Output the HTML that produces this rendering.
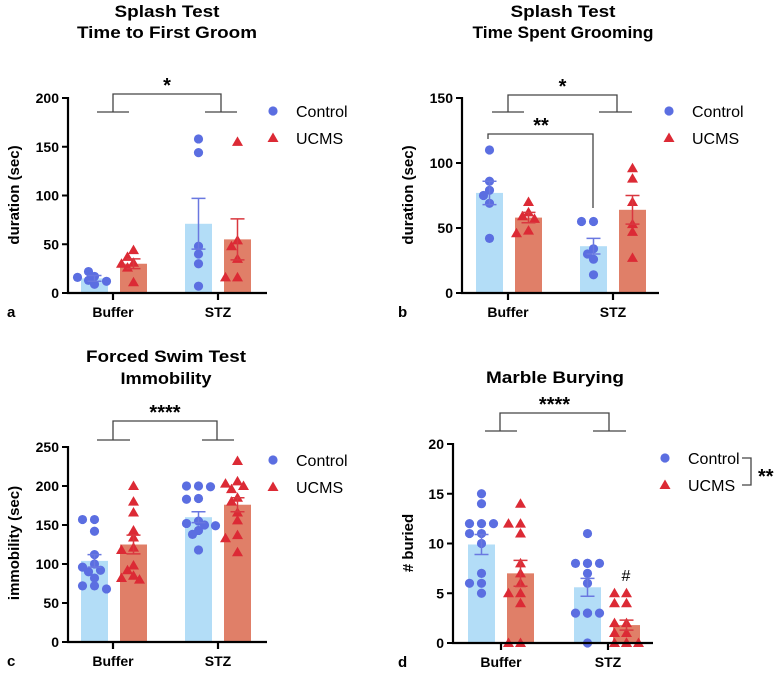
<!DOCTYPE html>
<html><head><meta charset="utf-8">
<style>
html,body{margin:0;padding:0;background:#fff;}
svg{display:block;font-family:"Liberation Sans",Arial,sans-serif;}
</style></head>
<body>
<svg id="chart" width="781" height="674" viewBox="0 0 781 674">
  <g font-weight="bold" font-size="17" fill="#000" text-anchor="middle">
    <text x="167" y="17" textLength="105" lengthAdjust="spacingAndGlyphs">Splash Test</text>
    <text x="167" y="38" textLength="180" lengthAdjust="spacingAndGlyphs">Time to First Groom</text>
    <text x="563" y="17" textLength="105" lengthAdjust="spacingAndGlyphs">Splash Test</text>
    <text x="563" y="38" textLength="181" lengthAdjust="spacingAndGlyphs">Time Spent Grooming</text>
    <text x="166" y="362" textLength="160" lengthAdjust="spacingAndGlyphs">Forced Swim Test</text>
    <text x="166" y="384" textLength="91" lengthAdjust="spacingAndGlyphs">Immobility</text>
    <text x="555" y="383" textLength="138" lengthAdjust="spacingAndGlyphs">Marble Burying</text>
  </g>
</svg>
<script>
// ---- data ----
const categories = ["Buffer", "STZ"];
const groups = ["Control", "UCMS"];
// Panel a: time to first groom
const aMeans = [[15, 30], [71, 55]];
const aSem = [[3, 5], [26, 21]];
const aBufCtrl = [9, 13, 17, 12, 22, 16];
const aBufUcms = [44, 37, 31, 30, 26, 11];
const aStzCtrl = [158, 144, 48, 40, 30, 7];
const aStzUcms = [155, 54, 48, 35, 16, 16];
const aTicks = [0, 50, 100, 150, 200];
// Panel b: time spent grooming
const bMeans = [[77, 58], [36, 64]];
const bSem = [[9, 4], [6, 11]];
const bBufCtrl = [110, 86, 79, 75, 69, 42];
const bBufUcms = [70, 62, 59, 57, 48, 46];
const bStzCtrl = [55, 55, 34, 30, 26, 14];
const bStzUcms = [96, 88, 70, 53, 47, 27];
const bTicks = [0, 50, 100, 150];
// Panel c: immobility
const cMeans = [[104, 125], [160, 176]];
const cSem = [[8, 12], [7, 9]];
const cBufCtrl = [157, 157, 142, 112, 100, 96, 92, 90, 82, 72, 72, 68];
const cBufUcms = [200, 180, 166, 143, 134, 121, 118, 98, 92, 85, 82, 80];
const cStzCtrl = [200, 200, 199, 184, 183, 155, 152, 150, 149, 143, 138, 118];
const cStzUcms = [232, 206, 203, 200, 196, 185, 180, 166, 156, 137, 133, 115];
const cTicks = [0, 50, 100, 150, 200, 250];
// Panel d: marble burying
const dMeans = [[9.9, 7], [5.6, 1.8]];
const dSem = [[1, 1.3], [0.9, 0.5]];
const dBufCtrl = [15, 14, 12, 12, 12, 11, 11, 10, 7, 6, 6, 5];
const dBufUcms = [14, 12, 12, 11, 8, 7, 6, 5, 5, 4, 0, 0];
const dStzCtrl = [11, 8, 8, 8, 8, 7, 6, 3, 3, 3, 3, 0];
const dStzUcms = [5, 5, 4, 4, 2, 2, 1, 1, 0, 0, 0, 0, 0];
const dTicks = [0, 5, 10, 15, 20];

const NS = "http://www.w3.org/2000/svg";
const svg = document.getElementById("chart");
function mk(tag, attrs, parent) {
  const e = document.createElementNS(NS, tag);
  for (const k in attrs) e.setAttribute(k, attrs[k]);
  (parent || svg).appendChild(e);
  return e;
}
const BLUE = "#5b6ee1", RED = "#dc2a35", BARB = "#b3ddf7", BARR = "#e07f68";

function panel(p) {
  const g = mk("g", {});
  
  
  const y = v => p.y0 - (v / p.ymax) * (p.y0 - p.ytop);
  const barX = [p.bars[0], p.bars[1], p.bars[2], p.bars[3]];
  const bw = 27;
  const series = [[p.pts[0], p.pts[1]], [p.pts[2], p.pts[3]]];
  for (let c = 0; c < 2; c++) {
    for (let s = 0; s < 2; s++) {
      const x0 = barX[c * 2 + s], cx = x0 + bw / 2;
      const bar = mk("rect", {x: x0, y: y(p.means[c][s]), width: bw, height: p.y0 - y(p.means[c][s]), fill: s ? BARR : BARB}, g);
      
      
      const vals = series[c][s];
      const placed = [];
      vals.forEach(v => {
        const py = y(v);
        const offs = [0, -6, 6, -12, 12, -17, 17];
        let px = cx;
        for (const o of offs) {
          if (!placed.some(q => Math.hypot(q[0] - (cx + o), q[1] - py) < 7)) { px = cx + o; break; }
        }
        placed.push([px, py]);
        let m;
        if (s === 0) m = mk("circle", {cx: px, cy: py, r: 4.6, fill: BLUE}, g);
        else m = mk("polygon", {points: `${px},${py - 5.5} ${px + 5.5},${py + 4} ${px - 5.5},${py + 4}`, fill: RED}, g);
        
        
      });
      const col = s ? "#d9373f" : "#6a78e0";
      const eb = mk("path", {d: `M${cx},${y(p.means[c][s] - p.sem[c][s])}V${y(p.means[c][s] + p.sem[c][s])}M${cx - 7},${y(p.means[c][s] + p.sem[c][s])}h14M${cx - 7},${y(p.means[c][s] - p.sem[c][s])}h14`, stroke: col, "stroke-width": 1.5, fill: "none"}, g);
      
      
    }
  }
  const ax = mk("path", {d: `M${p.ax},${p.ytop - 1}V${p.y0}H${p.axEnd}M${p.ticks2[0]},${p.y0}v7M${p.ticks2[1]},${p.y0}v7`, stroke: "#000", "stroke-width": 2.2, fill: "none"}, g);
  
  
  p.ticks.forEach(t => {
    const tk = mk("line", {x1: p.ax - 6, x2: p.ax, y1: y(t), y2: y(t), stroke: "#000", "stroke-width": 2}, g);
    
    
    const tl = mk("text", {x: p.ax - 9, y: y(t) + 5, "text-anchor": "end", "font-size": 14, "font-weight": "bold"}, g);
    tl.textContent = t;
    
    
  });
  categories.forEach((cname, i) => {
    const t = mk("text", {x: p.ticks2[i], y: p.y0 + 24, "text-anchor": "middle", "font-size": 14, "font-weight": "bold"}, g);
    t.textContent = cname;
    
    
  });
  const yt = mk("text", {x: 0, y: 0, transform: `translate(${p.ytx},${p.ytc}) rotate(-90)`, "text-anchor": "middle", "font-size": 15, "font-weight": "bold"}, g);
  yt.textContent = p.ylabel;
  
  
  const lt = mk("text", {x: p.letterX, y: p.y0 + 24, "font-size": 15, "font-weight": "bold"}, g);
  lt.textContent = p.id;
  
  
  const b = p.br;
  const br = mk("path", {d: `M${b.l1},${b.arm}H${b.l2}M${b.lv},${b.arm}V${b.top}H${b.rv}V${b.arm}M${b.r1},${b.arm}H${b.r2}`, stroke: "#444", "stroke-width": 1.3, fill: "none"}, g);
  
  
  const st = mk("text", {x: (b.lv + b.rv) / 2, y: b.top - 2, "text-anchor": "middle", "font-size": 20, "font-weight": "bold"}, g);
  st.textContent = b.stars;
  
  
  const lc = mk("circle", {cx: p.lx, cy: p.ly1, r: 4.6, fill: BLUE}, g);
  
  
  const lx2 = p.lx, ly2 = p.ly2;
  const lr = mk("polygon", {points: `${lx2},${ly2 - 5.5} ${lx2 + 5.5},${ly2 + 4} ${lx2 - 5.5},${ly2 + 4}`, fill: RED}, g);
  
  
  const t1 = mk("text", {x: p.lx + 23, y: p.ly1 + 6, "font-size": 16}, g);
  t1.textContent = "Control";
  
  
  const t2 = mk("text", {x: p.lx + 23, y: p.ly2 + 6, "font-size": 16}, g);
  t2.textContent = "UCMS";
  
  
  return {g, y};
}

panel({id: 'a', means: aMeans, sem: aSem, pts: [aBufCtrl, aBufUcms, aStzCtrl, aStzUcms], ticks: aTicks, ymax: 200,
  ax: 68, y0: 293, ytop: 98, axEnd: 267, bars: [81, 120, 185, 224], ticks2: [113, 218], ylabel: "duration (sec)",
  ytx: 19, ytc: 195, letterX: 7, lx: 273, ly1: 111, ly2: 138,
  br: {l1: 97, l2: 129, lv: 113, top: 94, rv: 221, r1: 205, r2: 237, arm: 112, stars: "*"}});
const pb = panel({id: 'b', means: bMeans, sem: bSem, pts: [bBufCtrl, bBufUcms, bStzCtrl, bStzUcms], ticks: bTicks, ymax: 150,
  ax: 462, y0: 293, ytop: 98, axEnd: 659, bars: [476, 515, 580, 619], ticks2: [508, 613], ylabel: "duration (sec)",
  ytx: 413, ytc: 195, letterX: 398, lx: 669, ly1: 111, ly2: 138,
  br: {l1: 492, l2: 524, lv: 508, top: 95, rv: 617, r1: 599, r2: 632, arm: 112, stars: "*"}});
const b2 = mk("path", {d: "M488,139V134H593V208", stroke: "#444", "stroke-width": 1.3, fill: "none"}, pb.g);


const b2t = mk("text", {x: 541, y: 132, "text-anchor": "middle", "font-size": 20, "font-weight": "bold"}, pb.g);
b2t.textContent = "**";



panel({id: 'c', means: cMeans, sem: cSem, pts: [cBufCtrl, cBufUcms, cStzCtrl, cStzUcms], ticks: cTicks, ymax: 250,
  ax: 68, y0: 642, ytop: 447, axEnd: 267, bars: [81, 120, 185, 224], ticks2: [113, 218], ylabel: "immobility (sec)",
  ytx: 19, ytc: 543, letterX: 7, lx: 273, ly1: 460, ly2: 487,
  br: {l1: 97, l2: 130, lv: 113, top: 421, rv: 217, r1: 202, r2: 234, arm: 440, stars: "****"}});
const pd = panel({id: 'd', means: dMeans, sem: dSem, pts: [dBufCtrl, dBufUcms, dStzCtrl, dStzUcms], ticks: dTicks, ymax: 20,
  ax: 453, y0: 643, ytop: 444, axEnd: 653, bars: [468, 507, 574, 613], ticks2: [501, 608], ylabel: "# buried",
  ytx: 413, ytc: 543, letterX: 398, lx: 665, ly1: 458, ly2: 485,
  br: {l1: 485, l2: 517, lv: 500, top: 413, rv: 609, r1: 593, r2: 626, arm: 431, stars: "****"}});
const lb = mk("path", {d: "M742,458H751V485H742", stroke: "#444", "stroke-width": 1.3, fill: "none"}, pd.g);


const lbt = mk("text", {x: 758, y: 483, "font-size": 20, "font-weight": "bold"}, pd.g);
lbt.textContent = "**";


const hash = mk("text", {x: 626, y: 581, "text-anchor": "middle", "font-size": 16}, pd.g);
hash.textContent = "#";


</script>
</body></html>
